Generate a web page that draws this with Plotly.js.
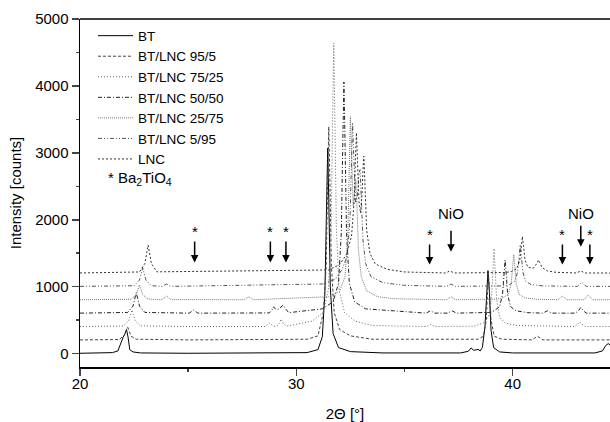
<!DOCTYPE html>
<html>
<head>
<meta charset="utf-8">
<script src="https://cdn.plot.ly/plotly-3.0.1.min.js"></script>
<style>html,body{margin:0;padding:0;background:#fff;}#chart{width:610px;height:422px;}</style>
</head>
<body>
<div id="chart"></div>
<script>
// Series names (legend order)
const seriesNames = ["BT", "BT/LNC 95/5", "BT/LNC 75/25", "BT/LNC 50/50", "BT/LNC 25/75", "BT/LNC 5/95", "LNC"];

// BT (offset 0)
const xBT = [20, 21.5, 21.75, 21.9, 22.0, 22.08, 22.15, 22.22, 22.3, 22.45, 22.8, 25, 28, 30.5, 31.0, 31.2, 31.32, 31.39, 31.45, 31.5, 31.57, 31.7, 31.95, 32.5, 34, 37.6, 37.95, 38.08, 38.2, 38.3, 38.4, 38.5, 38.6, 38.72, 38.8, 38.86, 38.92, 39.0, 39.12, 39.4, 40, 43.8, 44.15, 44.3, 44.42, 44.5];
const yBT = [5, 15, 40, 180, 250, 300, 360, 250, 60, 25, 10, 5, 5, 15, 60, 250, 900, 2200, 3070, 2300, 1000, 300, 90, 30, 10, 10, 35, 85, 50, 55, 65, 40, 90, 400, 950, 1240, 950, 350, 90, 25, 10, 10, 40, 120, 150, 130];

// BT/LNC 95/5 (offset 200)
const x95 = [20, 21.8, 22.05, 22.14, 22.2, 22.27, 22.36, 22.6, 25, 30.5, 31.0, 31.25, 31.38, 31.45, 31.5, 31.55, 31.62, 31.75, 32.0, 32.5, 33.5, 38.4, 38.65, 38.78, 38.84, 38.88, 38.93, 39.0, 39.15, 39.5, 40.9, 41.15, 41.4, 44.5];
const y95 = [205, 210, 270, 350, 400, 340, 260, 215, 205, 215, 265, 615, 1320, 2590, 3390, 2590, 1320, 615, 360, 265, 215, 215, 260, 500, 950, 1200, 950, 500, 260, 215, 205, 260, 205, 205];

// BT/LNC 75/25 (offset 400)
const x75 = [20, 22.0, 22.25, 22.34, 22.4, 22.46, 22.55, 22.8, 25, 28.55, 28.75, 28.95, 29.1, 29.2, 29.3, 29.4, 29.55, 30.73, 31.23, 31.48, 31.61, 31.68, 31.73, 31.78, 31.85, 31.98, 32.23, 32.73, 33.5, 36.0, 36.2, 36.4, 38.2, 38.64, 38.89, 39.02, 39.09, 39.14, 39.19, 39.26, 39.39, 39.64, 40.2, 42.85, 43.0, 43.1, 43.2, 43.35, 44.5];
const y75 = [405, 412, 490, 590, 650, 585, 490, 415, 405, 405, 455, 410, 410, 450, 515, 450, 410, 485, 612, 951, 1884, 3580, 4640, 3580, 1884, 951, 612, 485, 420, 405, 435, 405, 410, 458, 552, 810, 1278, 1570, 1278, 810, 552, 458, 420, 405, 440, 475, 440, 405, 405];

// BT/LNC 50/50 (offset 600)
const x50 = [20, 22.2, 22.45, 22.54, 22.6, 22.66, 22.75, 23.0, 25.05, 25.25, 25.45, 28.75, 28.87, 28.95, 29.05, 29.15, 29.28, 29.4, 29.5, 29.65, 31.2, 31.7, 31.95, 32.08, 32.15, 32.2, 32.25, 32.32, 32.45, 32.7, 33.2, 36.0, 36.2, 36.4, 37.0, 37.2, 37.4, 38.9, 39.15, 39.4, 39.53, 39.6, 39.65, 39.7, 39.77, 39.9, 40.15, 40.7, 41.4, 41.6, 41.8, 42.9, 43.05, 43.15, 43.25, 43.4, 44.5];
const y50 = [605, 615, 710, 830, 910, 830, 710, 615, 605, 650, 605, 608, 650, 700, 660, 660, 700, 725, 670, 612, 669, 773, 1050, 1811, 3195, 4060, 3195, 1811, 1050, 773, 669, 605, 640, 605, 605, 640, 605, 615, 640, 704, 880, 1200, 1400, 1200, 880, 704, 640, 612, 605, 640, 605, 605, 645, 690, 645, 605, 605];

// BT/LNC 25/75 (offset 800)
const x25 = [20, 22.35, 22.6, 22.69, 22.75, 22.81, 22.9, 23.15, 23.8, 24.0, 24.2, 27.6, 27.8, 28.0, 31.5, 32.0, 32.25, 32.38, 32.45, 32.5, 32.56, 32.63, 32.7, 32.75, 32.8, 32.87, 33.0, 33.25, 33.75, 34.5, 36.95, 37.15, 37.35, 39.3, 39.55, 39.8, 39.93, 40.0, 40.05, 40.1, 40.17, 40.3, 40.55, 41.1, 42.1, 42.3, 42.5, 43.3, 43.5, 43.7, 44.5];
const y25 = [805, 812, 880, 970, 1025, 970, 880, 815, 805, 860, 808, 805, 850, 805, 850, 930, 1150, 1750, 2850, 3540, 2900, 2200, 2450, 2600, 2250, 1550, 1150, 940, 850, 820, 805, 850, 805, 815, 834, 888, 1038, 1310, 1480, 1310, 1038, 888, 834, 812, 805, 860, 805, 805, 875, 805, 805];

// BT/LNC 5/95 (offset 1000)
const x5 = [20, 22.5, 22.75, 22.84, 22.9, 22.96, 23.05, 23.3, 23.8, 24.0, 24.2, 31.2, 31.8, 32.1, 32.35, 32.48, 32.55, 32.6, 32.66, 32.74, 32.82, 32.9, 32.95, 33.0, 33.08, 33.2, 33.45, 34.0, 35.0, 36.95, 37.15, 37.35, 39.6, 39.85, 40.1, 40.23, 40.3, 40.35, 40.4, 40.47, 40.6, 40.85, 41.4, 43.0, 43.2, 43.4, 44.5];
const y5 = [1005, 1014, 1098, 1210, 1280, 1210, 1098, 1015, 1005, 1040, 1005, 1040, 1110, 1250, 1450, 2000, 3000, 3450, 2900, 2250, 2350, 2700, 2750, 2350, 1700, 1350, 1150, 1060, 1020, 1005, 1040, 1005, 1012, 1032, 1082, 1220, 1472, 1630, 1472, 1220, 1082, 1032, 1012, 1005, 1065, 1005, 1005];

// LNC (offset 1200)
const xLNC = [20, 22.75, 23.0, 23.09, 23.15, 23.21, 23.3, 23.55, 31.5, 32.0, 32.3, 32.55, 32.68, 32.73, 32.78, 32.83, 32.9, 32.97, 33.04, 33.08, 33.12, 33.17, 33.25, 33.4, 33.65, 34.2, 35.0, 36.9, 37.1, 37.3, 39.7, 39.95, 40.2, 40.33, 40.4, 40.45, 40.5, 40.57, 40.7, 40.95, 41.08, 41.15, 41.2, 41.25, 41.35, 41.6, 42.0, 42.95, 43.15, 43.35, 44.5];
const yLNC = [1205, 1220, 1347, 1515, 1620, 1515, 1347, 1222, 1250, 1330, 1470, 1750, 2300, 2900, 3300, 2850, 2250, 2100, 2400, 2750, 2950, 2550, 1850, 1500, 1340, 1260, 1220, 1205, 1235, 1205, 1212, 1228, 1272, 1395, 1615, 1750, 1615, 1400, 1290, 1275, 1330, 1370, 1400, 1360, 1290, 1235, 1215, 1205, 1235, 1205, 1205];

// Marker annotations (phase identification): Ba2TiO4 stars and NiO
const starX = [25.3, 28.8, 29.52, 36.16, 42.3, 43.57];
const starTip = [1360, 1360, 1360, 1330, 1330, 1330];
const nioX = [37.15, 43.15];
const nioTip = [1522, 1597];

const xs = [xBT, x95, x75, x50, x25, x5, xLNC];
const ys = [yBT, y95, y75, y50, y25, y5, yLNC];
const styles = [
  {color: "#000000", dash: "solid", width: 1},
  {color: "#444444", dash: "3px,2px", width: 1},
  {color: "#666666", dash: "1px,2px", width: 1},
  {color: "#222222", dash: "4px,2px,1px,2px", width: 1},
  {color: "#777777", dash: "1px,1px", width: 1},
  {color: "#555555", dash: "4px,2px,1px,2px,1px,2px", width: 1},
  {color: "#333333", dash: "2px,2px", width: 1}
];

const traces = seriesNames.map((n, i) => ({
  x: xs[i], y: ys[i], name: n, type: "scatter", mode: "lines",
  line: styles[i]
}));

const FONT = "Arial, Liberation Sans, sans-serif";
const annotations = [];
starX.forEach((x, i) => {
  annotations.push({x: x, y: starTip[i], xref: "x", yref: "y", text: "*", showarrow: true,
    ax: 0, ay: (i < 3 ? -31 : -30), arrowhead: 2, arrowsize: 1, arrowwidth: 1.5, arrowcolor: "#000",
    font: {family: FONT, size: 15, color: "#000"}});
});
const nioAy = [-38, -33];
const nioPad = [8, 3];
nioX.forEach((x, i) => {
  annotations.push({x: x, y: nioTip[i], xref: "x", yref: "y", text: "NiO", showarrow: true,
    ax: 0, ay: nioAy[i], borderpad: nioPad[i], arrowhead: 2, arrowsize: 1, arrowwidth: 1.5, arrowcolor: "#000",
    font: {family: FONT, size: 15, color: "#000"}});
});
annotations.push({x: 21.2, y: 2620, xref: "x", yref: "y", text: "* Ba<sub>2</sub>TiO<sub>4</sub>",
  showarrow: false, xanchor: "left", yanchor: "middle", font: {family: FONT, size: 15, color: "#000"}});

const layout = {
  width: 610, height: 422,
  margin: {l: 80, r: 0, t: 19, b: 55},
  paper_bgcolor: "#fff", plot_bgcolor: "#fff",
  font: {family: FONT, size: 15, color: "#000"},
  showlegend: true,
  legend: {x: 0.0245, y: 0.996, xanchor: "left", yanchor: "top", bgcolor: "rgba(0,0,0,0)",
    itemwidth: 35, font: {family: FONT, size: 13.5, color: "#000"}, tracegroupgap: 0},
  xaxis: {
    range: [20, 44.5], tickvals: [20, 30, 40], ticks: "outside", ticklen: 7, tickwidth: 1.5,
    ticklabelstandoff: -5,
    showline: true, linecolor: "#000", linewidth: 1.5, showgrid: false, zeroline: false,
    minor: {dtick: 5, tick0: 20, ticks: "outside", ticklen: 3, tickwidth: 1.5, showgrid: false},
    tickfont: {family: FONT, size: 15},
    title: {text: "2\u0398 [\u00b0]", font: {family: FONT, size: 15}, standoff: 22}
  },
  yaxis: {
    range: [-200, 5000], tickvals: [0, 1000, 2000, 3000, 4000, 5000], ticks: "outside", ticklen: 7, tickwidth: 1.5,
    showline: true, linecolor: "#000", linewidth: 1.5, showgrid: false, zeroline: false,
    minor: {dtick: 500, tick0: 0, ticks: "outside", ticklen: 3, tickwidth: 1.5, showgrid: false},
    tickfont: {family: FONT, size: 15},
    title: {text: "Intensity [counts]", font: {family: FONT, size: 15}, standoff: 10}
  },
  shapes: [{type: "line", xref: "paper", yref: "paper", x0: 0, x1: 1, y0: 1, y1: 1,
    line: {color: "#000", width: 1.5}}],
  annotations: annotations
};

Plotly.newPlot("chart", traces, layout, {displayModeBar: false, staticPlot: true});
</script>
</body>
</html>
